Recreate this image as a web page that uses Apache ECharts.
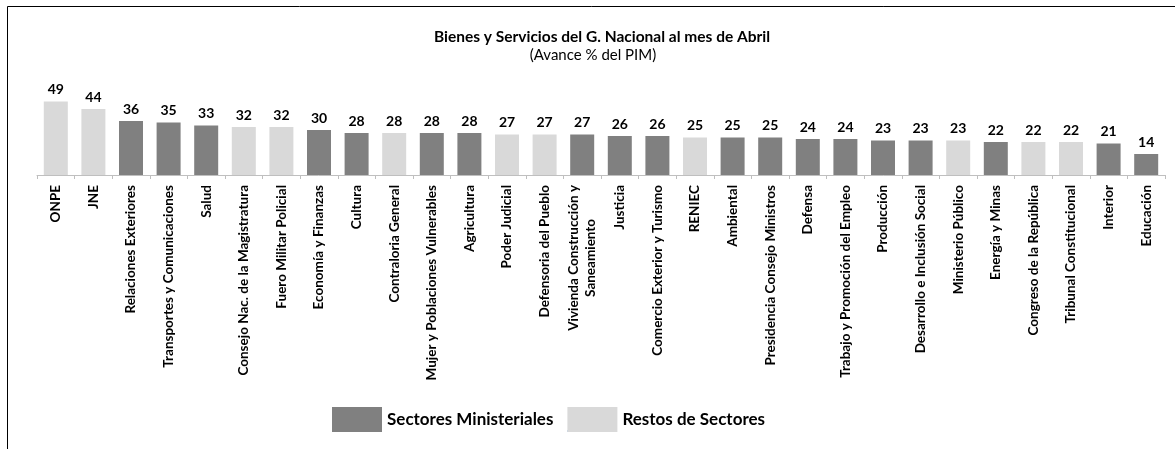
<!DOCTYPE html>
<html>
<head>
<meta charset="utf-8">
<script src="https://cdn.jsdelivr.net/npm/echarts@6/dist/echarts.min.js"></script>
<style>
html,body{margin:0;padding:0;background:#fff;}
#chart{width:1175px;height:449px;}
</style>
</head>
<body>
<div id="chart"></div>
<script>
const categories = [
  'ONPE', 'JNE', 'Relaciones Exteriores', 'Transportes y Comunicaciones', 'Salud',
  'Consejo Nac. de la Magistratura', 'Fuero Militar Policial', 'Economía y Finanzas', 'Cultura',
  'Contraloria General', 'Mujer y Poblaciones Vulnerables', 'Agricultura', 'Poder Judicial',
  'Defensoria del Pueblo', 'Vivienda Construcción y\nSaneamiento', 'Justicia',
  'Comercio Exterior y Turismo', 'RENIEC', 'Ambiental', 'Presidencia Consejo Ministros',
  'Defensa', 'Trabajo y Promoción del Empleo', 'Producción', 'Desarrollo e Inclusión Social',
  'Ministerio Público', 'Energía y Minas', 'Congreso de la República', 'Tribunal Constitucional',
  'Interior', 'Educación'
];
const values = [49, 44, 36, 35, 33, 32, 32, 30, 28, 28, 28, 28, 27, 27, 27, 26, 26, 25, 25, 25,
  24, 24, 23, 23, 23, 22, 22, 22, 21, 14];
// 'M' = Sectores Ministeriales, 'R' = Restos de Sectores
const groups = ['R', 'R', 'M', 'M', 'M', 'R', 'R', 'M', 'M', 'R', 'M', 'M', 'R', 'R', 'M', 'M',
  'M', 'R', 'M', 'M', 'M', 'M', 'M', 'M', 'R', 'M', 'R', 'R', 'M', 'M'];
const seriesNames = ['Sectores Ministeriales', 'Restos de Sectores'];
const titleText = 'Bienes y Servicios del G. Nacional al mes de Abril';
const subtitleText = '(Avance % del PIM)';

const FONT = 'Lato, "Open Sans", sans-serif';
const ministerial = values.map((v, i) => groups[i] === 'M' ? v : null);
const restos = values.map((v, i) => groups[i] === 'R' ? v : null);

const barLabel = {
  show: true, position: 'top', distance: 5,
  fontFamily: FONT, fontWeight: 'bold', fontSize: 14, color: '#000',
  formatter: p => Math.round(p.value)
};

const chart = echarts.init(document.getElementById('chart'), null, {renderer: 'canvas'});
chart.setOption({
  backgroundColor: '#fff',
  animation: false,
  title: [
    {text: titleText, left: 597, top: 24, textAlign: 'center',
      textStyle: {fontFamily: FONT, fontWeight: 'bold', fontSize: 15.5, color: '#000'}},
    {text: subtitleText, left: 588, top: 43, textAlign: 'center',
      textStyle: {fontFamily: FONT, fontWeight: 'normal', fontSize: 15, color: '#000'}}
  ],
  legend: {
    data: seriesNames, left: 332, top: 407, padding: 0,
    itemWidth: 50, itemHeight: 25, itemGap: 14, icon: 'rect', selectedMode: false,
    textStyle: {fontFamily: FONT, fontWeight: 'bold', fontSize: 17, color: '#000'}
  },
  grid: {left: 37, right: 10, top: 85, bottom: 274, containLabel: false},
  xAxis: {
    type: 'category', data: categories,
    axisLine: {lineStyle: {color: '#bfbfbf', width: 1}},
    axisTick: {show: true, length: 4, lineStyle: {color: '#bfbfbf'}},
    axisLabel: {
      interval: 0, rotate: 90, margin: 10,
      formatter: v => v.split('\n').map(s => '{c|' + s + '}').join('\n'),
      rich: {c: {align: 'center', fontFamily: FONT, fontWeight: 'bold', fontSize: 13.5, color: '#000', lineHeight: 17}}
    }
  },
  yAxis: {type: 'value', min: 0, max: 60, show: false, splitLine: {show: false}},
  series: [
    {name: seriesNames[0], type: 'bar', stack: 'all', data: ministerial, barWidth: 24,
      itemStyle: {color: '#808080'}, label: barLabel},
    {name: seriesNames[1], type: 'bar', stack: 'all', data: restos, barWidth: 24,
      itemStyle: {color: '#d9d9d9'}, label: barLabel}
  ],
  graphic: [
    {type: 'rect', silent: true, shape: {x: 7.5, y: 6.5, width: 1200, height: 500},
      style: {fill: 'none', stroke: '#000', lineWidth: 1}},
    {type: 'rect', silent: true, shape: {x: 332, y: 430, width: 50, height: 2},
      style: {fill: '#3b64a0'}},
    {type: 'rect', silent: true, shape: {x: 567, y: 430, width: 50, height: 2},
      style: {fill: '#c5d9f1'}}
  ]
});
</script>
</body>
</html>
